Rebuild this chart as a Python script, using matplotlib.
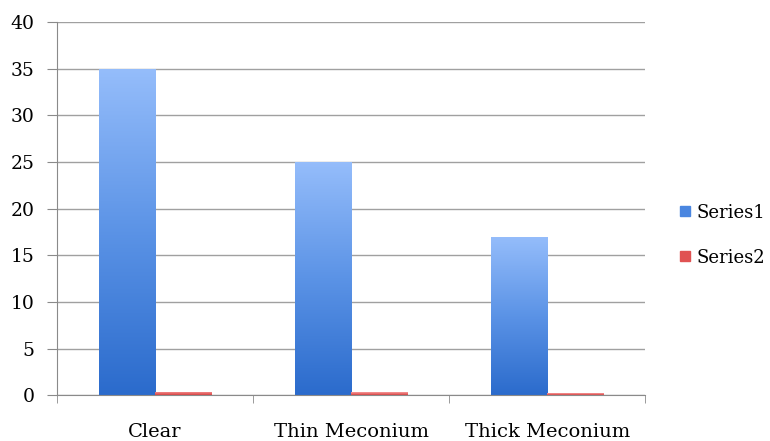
import numpy as np
import matplotlib
matplotlib.use("Agg")
import matplotlib.pyplot as plt
from matplotlib.colors import LinearSegmentedColormap
from matplotlib.patches import Rectangle
from matplotlib.lines import Line2D

categories = ["Clear", "Thin Meconium", "Thick Meconium"]
series1 = [35, 25, 17]
series2 = [0.35, 0.3, 0.2]
series_names = ["Series1", "Series2"]
y_ticks = [0, 5, 10, 15, 20, 25, 30, 35, 40]

plt.rcParams["font.family"] = ["DejaVu Serif"]

fig = plt.figure(figsize=(7.7, 4.41), dpi=100)
ax = fig.add_axes([0.074, 0.104, 0.764, 0.846])

blue_cmap = LinearSegmentedColormap.from_list("blue", ["#2b6bcc", "#5b93e6", "#95bdfb"])
red_cmap = LinearSegmentedColormap.from_list("red", ["#d94040", "#ea7070", "#f59a9a"])

width = 1 / 3.5
x = np.arange(len(categories))
gradient = np.linspace(0, 1, 256).reshape(-1, 1)


def gradient_bars(xs, heights, cmap):
    bars = ax.bar(xs, heights, width=width, color="none", edgecolor="none")
    for bar in bars:
        x0, y0 = bar.get_x(), bar.get_y()
        w, h = bar.get_width(), bar.get_height()
        im = ax.imshow(gradient, cmap=cmap, aspect="auto", origin="lower",
                       extent=[x0, x0 + w, y0, y0 + h], zorder=2)
        clip = Rectangle((x0, y0), w, h, transform=ax.transData)
        im.set_clip_path(clip)
    return bars


gradient_bars(x - width / 2, series1, blue_cmap)
gradient_bars(x + width / 2, series2, red_cmap)

ax.set_xlim(-0.5, len(categories) - 0.5)
ax.set_ylim(0, 40)
ax.set_yticks(y_ticks)
ax.yaxis.grid(True, color="#a0a0a0", linewidth=1.0)
ax.set_axisbelow(True)

ax.set_xticks(x)
ax.set_xticklabels(categories)
ax.set_xticks(np.arange(len(categories) + 1) - 0.5, minor=True)
ax.tick_params(axis="x", which="major", length=0, pad=20, labelsize=14)
ax.tick_params(axis="x", which="minor", length=6, color="#8a8a8a", direction="out")
ax.tick_params(axis="y", length=7, color="#8a8a8a", labelsize=13.5, pad=9)

for side in ["top", "right"]:
    ax.spines[side].set_visible(False)
ax.spines["left"].set_color("#8a8a8a")
ax.spines["bottom"].set_color("#8a8a8a")

handles = [
    Line2D([], [], marker="s", linestyle="none", markersize=7.5,
           markerfacecolor="#4a86e0", markeredgecolor="#4a86e0"),
    Line2D([], [], marker="s", linestyle="none", markersize=7.5,
           markerfacecolor="#e05252", markeredgecolor="#e05252"),
]
fig.legend(handles, series_names, loc="center left", bbox_to_anchor=(0.880, 0.467),
           frameon=False, fontsize=13, handletextpad=0.25, labelspacing=1.5,
           handlelength=0.8, borderpad=0, borderaxespad=0)

fig.savefig("out.png", dpi=100)
